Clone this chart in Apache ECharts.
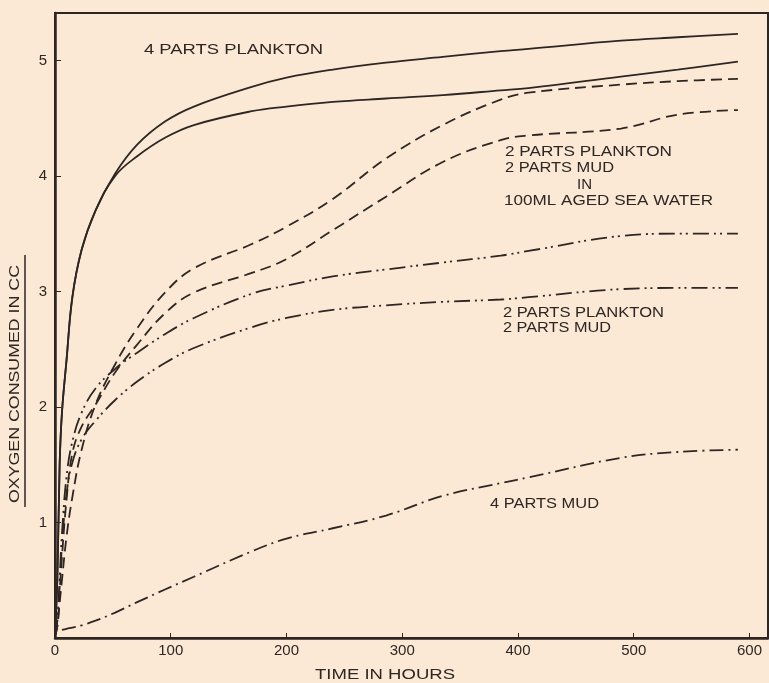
<!DOCTYPE html>
<html>
<head>
<meta charset="utf-8">
<script src="https://cdn.jsdelivr.net/npm/echarts@6/dist/echarts.min.js"></script>
<style>
  html, body { margin: 0; padding: 0; background: #fbe9d5; }
  #main { width: 769px; height: 683px; }
</style>
</head>
<body>
<div id="main"></div>
<script>
// time in hours (shared by all curves)
var hours = [0, 2, 4, 6, 10, 15, 23, 35, 52, 71, 95, 120, 170, 200, 240, 286, 335, 385, 409, 489, 538, 590];

// 4 parts plankton (two runs)
var planktonA = [0.05, 0.5, 1.5, 1.95, 2.41, 2.95, 3.36, 3.7, 4.02, 4.27, 4.47, 4.6, 4.77, 4.85, 4.92, 4.98, 5.03, 5.08, 5.1, 5.17, 5.2, 5.23];
var planktonB = [0.05, 0.5, 1.5, 1.95, 2.41, 2.95, 3.36, 3.7, 4.0, 4.17, 4.33, 4.44, 4.56, 4.6, 4.64, 4.67, 4.7, 4.74, 4.76, 4.86, 4.92, 4.99];

// 2 parts plankton, 2 parts mud in 100 ml aged sea water
var seaA = [0.02, 0.1, 0.3, 0.5, 0.88, 1.22, 1.63, 2.02, 2.37, 2.68, 2.99, 3.2, 3.41, 3.56, 3.8, 4.15, 4.44, 4.66, 4.72, 4.79, 4.82, 4.84];
var seaB = [0.02, 0.1, 0.4, 0.7, 1.2, 1.6, 1.83, 2.02, 2.3, 2.54, 2.81, 2.99, 3.16, 3.28, 3.53, 3.82, 4.12, 4.31, 4.35, 4.41, 4.53, 4.57];

// 2 parts plankton, 2 parts mud
var mixA = [0.02, 0.15, 0.5, 0.9, 1.4, 1.7, 1.95, 2.16, 2.33, 2.47, 2.63, 2.77, 2.98, 3.05, 3.13, 3.19, 3.25, 3.31, 3.35, 3.48, 3.5, 3.5];
var mixB = [0.02, 0.15, 0.45, 0.8, 1.25, 1.52, 1.72, 1.88, 2.06, 2.22, 2.38, 2.51, 2.69, 2.77, 2.84, 2.88, 2.91, 2.93, 2.95, 3.02, 3.03, 3.03];

// 4 parts mud
var mud = [null, null, null, 0.07, 0.08, 0.09, 0.11, 0.15, 0.22, 0.31, 0.42, 0.53, 0.75, 0.86, 0.95, 1.06, 1.23, 1.34, 1.39, 1.56, 1.61, 1.63];

var ink = '#2e2623';
var fontFam = '"Liberation Sans", Arial, sans-serif';

function pairs(vals) {
  return hours.map(function (h, i) { return [h, vals[i]]; });
}

var measureCtx = document.createElement('canvas').getContext('2d');
function note(text, left, cy, width, size, rot) {
  size = size || 15;
  measureCtx.font = size + 'px ' + fontFam;
  var w = measureCtx.measureText(text).width;
  return {
    type: 'text',
    x: left, y: cy,
    rotation: rot || 0,
    scaleX: width / w,
    silent: true,
    style: {
      text: text,
      x: 0, y: 0,
      align: rot ? 'center' : 'left',
      verticalAlign: 'middle',
      fill: ink,
      font: size + 'px ' + fontFam
    }
  };
}

function curve(name, vals, dash) {
  return {
    name: name,
    type: 'line',
    data: pairs(vals),
    smooth: 0.4,
    showSymbol: false,
    silent: true,
    lineStyle: { color: ink, width: 1.8, type: dash }
  };
}

var myChart = echarts.init(document.getElementById('main'));
var option = {
  backgroundColor: '#fbe9d5',
  animation: false,
  grid: {
    left: 55, right: 1, top: 13, bottom: 45,
    show: true, borderColor: ink, borderWidth: 2
  },
  xAxis: {
    type: 'value',
    min: 0, max: 616, interval: 100,
    splitLine: { show: false },
    axisLine: { lineStyle: { color: ink, width: 2.5 } },
    axisTick: { inside: true, length: 5, lineStyle: { color: ink } },
    axisLabel: { showMaxLabel: false, color: ink, fontSize: 15, fontFamily: fontFam, margin: 5 }
  },
  yAxis: {
    type: 'value',
    min: 0, max: 5.41, interval: 1,
    splitLine: { show: false },
    axisLine: { show: true, lineStyle: { color: ink, width: 2.5 } },
    axisTick: { show: true, inside: true, length: 6, lineStyle: { color: ink } },
    axisLabel: { showMinLabel: false, showMaxLabel: false, color: ink, fontSize: 15, fontFamily: fontFam, margin: 8 }
  },
  series: [
    curve('4 parts plankton a', planktonA, 'solid'),
    curve('4 parts plankton b', planktonB, 'solid'),
    curve('sea water a', seaA, [11, 6]),
    curve('sea water b', seaB, [11, 6]),
    curve('plankton mud a', mixA, [16, 5, 2, 4, 2, 5]),
    curve('plankton mud b', mixB, [16, 5, 2, 4, 2, 5]),
    curve('4 parts mud', mud, [14, 5, 2, 5])
  ],
  graphic: [
    note('4 PARTS PLANKTON', 144, 50, 179),
    note('2 PARTS PLANKTON', 505, 152, 167),
    note('2 PARTS MUD', 505, 168, 109),
    note('IN', 577, 185, 15),
    note('100ML AGED SEA WATER', 504, 201, 209),
    note('2 PARTS PLANKTON', 503, 313, 161),
    note('2 PARTS MUD', 503, 328, 108),
    note('4 PARTS MUD', 490, 504, 109),
    note('TIME IN HOURS', 315, 675, 140, 14),
    note('OXYGEN CONSUMED IN CC', 15, 384, 238, 15, Math.PI / 2),
    {
      type: 'line', silent: true,
      shape: { x1: 25, y1: 255, x2: 25, y2: 507 },
      style: { stroke: ink, lineWidth: 1.5 }
    }
  ]
};
myChart.setOption(option);
</script>
</body>
</html>
